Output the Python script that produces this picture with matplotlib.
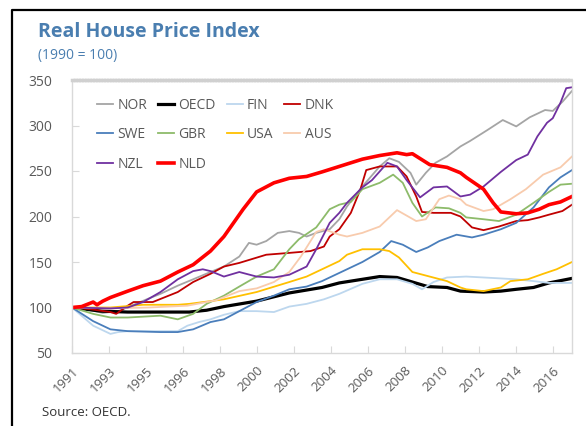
import numpy as np
import matplotlib
matplotlib.use('Agg')
import matplotlib.pyplot as plt
from matplotlib.lines import Line2D

plt.rcParams['font.family'] = ['Open Sans', 'DejaVu Sans']

# category labels on the x axis
tick_labels = ['1991', '1993', '1995', '1996', '1998', '2000', '2002',
               '2004', '2006', '2008', '2010', '2012', '2014', '2016']

# values (x in years, y = index, 1990 = 100)
nor_x = [1991.0, 1992.0, 1992.6, 1993.4, 1994.2, 1995.0, 1995.6, 1996.5, 1997.3, 1998.2, 1998.9, 1999.7,
         2000.2, 2000.6, 2001.1, 2001.7, 2002.3, 2002.8, 2003.2, 2003.7, 2004.4, 2004.9, 2005.3, 2006.1,
         2007.0, 2007.5, 2008.0, 2008.6, 2008.9, 2009.4, 2009.9, 2010.5, 2011.2, 2011.7, 2012.6, 2013.4,
         2014.1, 2014.8, 2015.6, 2016.0, 2016.5, 2017.0]
nor_y = [100, 97, 94, 96, 103, 110, 115, 124, 131, 139, 145, 156,
         171, 169, 173, 182, 184, 182, 178, 182, 186, 197, 211, 233,
         255, 264, 260, 248, 235, 248, 259, 266, 277, 283, 295, 306,
         299, 309, 317, 316, 326, 338]

oecd_x = [1991.0, 1992.5, 1993.9, 1995.6, 1997.1, 1998.0, 1998.9, 2000.6, 2002.3, 2004.0, 2004.9, 2006.1,
          2007.0, 2007.9, 2008.7, 2009.5, 2010.5, 2011.2, 2012.4, 2013.3, 2014.1, 2015.0, 2015.8, 2017.0]
oecd_y = [100, 96, 95, 95, 95, 97, 101, 107, 116, 122, 127, 131,
          134, 133, 128, 123, 122, 118, 117, 118, 120, 122, 127, 132]

fin_x = [1991.0, 1992.1, 1993.0, 1993.4, 1993.9, 1996.5, 1997.0, 1997.6, 1998.2, 1998.9, 1999.7, 2000.6,
         2001.5, 2002.3, 2003.2, 2004.1, 2004.9, 2006.1, 2007.0, 2007.9, 2008.7, 2009.2, 2009.8, 2010.5,
         2011.5, 2012.4, 2014.1, 2015.0, 2015.8, 2017.0]
fin_y = [100, 80, 71, 73, 74, 74, 80, 84, 87, 92, 96, 96,
         95, 101, 104, 109, 115, 126, 131, 131, 126, 120, 128, 133,
         134, 133, 131, 129, 127, 127]

dnk_x = [1991.0, 1992.0, 1993.0, 1993.3, 1993.9, 1994.2, 1995.2, 1996.5, 1997.3, 1998.2, 1998.9, 1999.7,
         2001.1, 2002.3, 2003.4, 2004.1, 2004.4, 2004.9, 2005.5, 2006.0, 2006.3, 2007.0, 2007.9, 2008.4,
         2008.9, 2009.2, 2009.8, 2010.7, 2011.2, 2011.8, 2012.4, 2013.2, 2014.1, 2014.7, 2015.3, 2015.8,
         2016.5, 2017.0]
dnk_y = [100, 98, 95, 93, 102, 106, 106, 117, 128, 137, 145, 149,
         158, 160, 162, 167, 178, 186, 204, 230, 251, 255, 255, 244,
         222, 205, 204, 204, 200, 188, 185, 189, 195, 196, 199, 202,
         206, 213]

swe_x = [1991.0, 1992.1, 1993.0, 1993.9, 1995.6, 1996.5, 1997.3, 1998.2, 1998.9, 1999.7, 2000.6, 2001.5,
         2002.3, 2003.2, 2004.0, 2005.0, 2006.1, 2007.0, 2007.6, 2008.2, 2008.9, 2009.5, 2010.1, 2011.0,
         2011.8, 2012.4, 2013.3, 2014.1, 2015.0, 2015.8, 2016.4, 2017.0]
swe_y = [100, 85, 76, 74, 73, 73, 76, 84, 87, 96, 106, 113,
         120, 123, 129, 139, 150, 161, 173, 169, 161, 166, 173, 180,
         177, 180, 186, 193, 210, 232, 243, 251]

gbr_x = [1991.0, 1992.1, 1993.0, 1993.9, 1995.6, 1996.5, 1997.3, 1998.0, 1998.9, 1999.7, 2000.6, 2001.5,
         2002.3, 2002.8, 2003.7, 2004.4, 2004.9, 2005.5, 2006.1, 2007.0, 2007.7, 2008.2, 2008.7, 2009.2,
         2009.9, 2010.6, 2011.2, 2011.5, 2012.4, 2013.2, 2014.1, 2015.0, 2015.8, 2016.4, 2017.0]
gbr_y = [100, 93, 89, 89, 91, 87, 93, 104, 113, 123, 134, 142,
         164, 175, 188, 208, 213, 216, 230, 237, 246, 237, 215, 200,
         210, 209, 204, 199, 197, 195, 202, 215, 227, 235, 236]

usa_x = [1991.0, 1993.0, 1994.7, 1996.5, 1997.1, 1998.2, 1998.9, 2000.6, 2002.3, 2003.2, 2004.0, 2004.9,
         2005.3, 2006.1, 2007.0, 2007.5, 2008.0, 2008.7, 2009.6, 2010.5, 2011.2, 2011.5, 2012.4, 2013.3,
         2013.8, 2014.7, 2015.5, 2016.2, 2017.0]
usa_y = [100, 100, 103, 103, 104, 107, 109, 117, 128, 134, 142, 151,
         158, 164, 164, 162, 155, 139, 134, 129, 122, 120, 118, 122,
         129, 131, 137, 142, 150]

aus_x = [1991.0, 1993.0, 1995.0, 1997.0, 1998.5, 1999.7, 2000.6, 2001.5, 2002.3, 2002.9, 2003.7, 2004.1,
         2004.9, 2005.3, 2006.1, 2007.0, 2007.9, 2008.9, 2009.4, 2010.1, 2010.6, 2011.2, 2011.5, 2012.4,
         2012.9, 2013.8, 2014.6, 2015.5, 2016.4, 2017.0]
aus_y = [100, 99, 100, 102, 108, 118, 121, 128, 139, 156, 183, 186,
         180, 178, 182, 189, 207, 195, 197, 219, 223, 219, 213, 206,
         208, 219, 230, 246, 254, 266]

nzl_x = [1991.0, 1993.0, 1993.9, 1994.7, 1995.6, 1996.5, 1997.3, 1997.8, 1998.2, 1998.9, 1999.7, 2000.6,
         2001.5, 2002.3, 2003.2, 2003.7, 2004.4, 2004.9, 2005.3, 2006.1, 2006.6, 2007.4, 2007.9, 2008.4,
         2009.1, 2009.8, 2010.5, 2011.2, 2011.7, 2012.4, 2013.3, 2014.1, 2014.7, 2015.2, 2015.7, 2016.0,
         2016.4, 2016.7, 2017.0]
nzl_y = [100, 99, 100, 106, 117, 131, 140, 142, 140, 134, 139, 134,
         133, 136, 145, 164, 193, 204, 215, 232, 240, 259, 255, 240,
         221, 232, 233, 222, 224, 233, 249, 262, 268, 288, 303, 308,
         325, 341, 342]

nld_x = [1991.0, 1991.5, 1992.1, 1992.3, 1992.6, 1993.0, 1993.9, 1994.7, 1995.6, 1996.5, 1997.3, 1998.2,
         1998.9, 1999.4, 1999.9, 2000.6, 2001.5, 2002.3, 2003.2, 2004.0, 2004.9, 2005.5, 2006.1, 2007.0,
         2007.9, 2008.4, 2008.7, 2009.6, 2010.5, 2011.2, 2011.5, 2012.4, 2012.9, 2013.3, 2014.1, 2014.7,
         2015.3, 2015.8, 2016.4, 2017.0]
nld_y = [100, 101, 106, 103, 107, 111, 118, 124, 129, 139, 147, 162,
         178, 193, 208, 227, 237, 242, 244, 249, 255, 259, 263, 267,
         270, 268, 269, 257, 254, 248, 243, 230, 215, 205, 203, 204,
         208, 213, 216, 222]

series = [
    ('NOR', nor_x, nor_y, '#A5A5A5', 1.3),
    ('OECD', oecd_x, oecd_y, '#000000', 2.3),
    ('FIN', fin_x, fin_y, '#BDD7EE', 1.3),
    ('DNK', dnk_x, dnk_y, '#C00000', 1.3),
    ('SWE', swe_x, swe_y, '#4A7EBB', 1.3),
    ('GBR', gbr_x, gbr_y, '#8DBB6A', 1.3),
    ('USA', usa_x, usa_y, '#FFC000', 1.3),
    ('AUS', aus_x, aus_y, '#F8CBAD', 1.3),
    ('NZL', nzl_x, nzl_y, '#7030A0', 1.3),
    ('NLD', nld_x, nld_y, '#FF0000', 2.6),
]

fig = plt.figure(figsize=(5.86, 4.26), dpi=100)
ax = fig.add_axes([72/586, 1-353/426, 500/586, 273/426])

lines = {}
for name, xs, ys, col, lw in series:
    ln, = ax.plot(xs, ys, color=col, linewidth=lw, label=name)
    lines[name] = ln

ax.set_xlim(1991, 2017)
ax.set_ylim(50, 350)
ax.set_yticks(np.arange(50, 351, 50))

tick_pos = np.linspace(1991, 2016, len(tick_labels))
ax.set_xticks(tick_pos)
ax.set_xticklabels(tick_labels, rotation=45, ha='right', va='top', rotation_mode='anchor')

ax.tick_params(axis='y', direction='in', length=5, color='#D9D9D9', labelcolor='#595959',
               labelsize=10, pad=14)
ax.tick_params(axis='x', direction='in', length=5, color='#D9D9D9', labelcolor='#595959',
               labelsize=9.5, pad=8)

for s in ['left', 'right', 'bottom']:
    ax.spines[s].set_color('#D9D9D9')
    ax.spines[s].set_linewidth(1)
ax.spines['top'].set_color('#D0D0D0')
ax.spines['top'].set_linewidth(2.5)
ax.spines['top'].set_linestyle((0, (0.4, 0.4)))

# legend filled row by row
order = ['NOR', 'SWE', 'NZL', 'OECD', 'GBR', 'NLD', 'FIN', 'USA', 'DNK', 'AUS']
leg = ax.legend([lines[n] for n in order], order, ncol=4, frameon=False,
                loc='upper left', bbox_to_anchor=(25/500, 0.935),
                borderaxespad=0, borderpad=0,
                handlelength=1.15, handletextpad=0.3, columnspacing=0.8,
                labelspacing=1.05, fontsize=10)
for t in leg.get_texts():
    t.set_color('#595959')

fig.text(38/586, 1-32/426, 'Real House Price Index', fontsize=14, fontweight='bold',
         color='#4A7EB0', va='center', ha='left')
fig.text(38/586, 1-55/426, '(1990 = 100)', fontsize=10, color='#4A7EB0', va='center', ha='left')
fig.text(42/586, 1-413/426, 'Source: OECD.', fontsize=9.5, color='#333333', va='center', ha='left')

# outer frame (left and top edge)
fig.add_artist(Line2D([12/586, 12/586, 1.0], [0.0, 1-10/426, 1-10/426],
                      transform=fig.transFigure, color='black', linewidth=1.6))

fig.savefig('out.png', dpi=100)
